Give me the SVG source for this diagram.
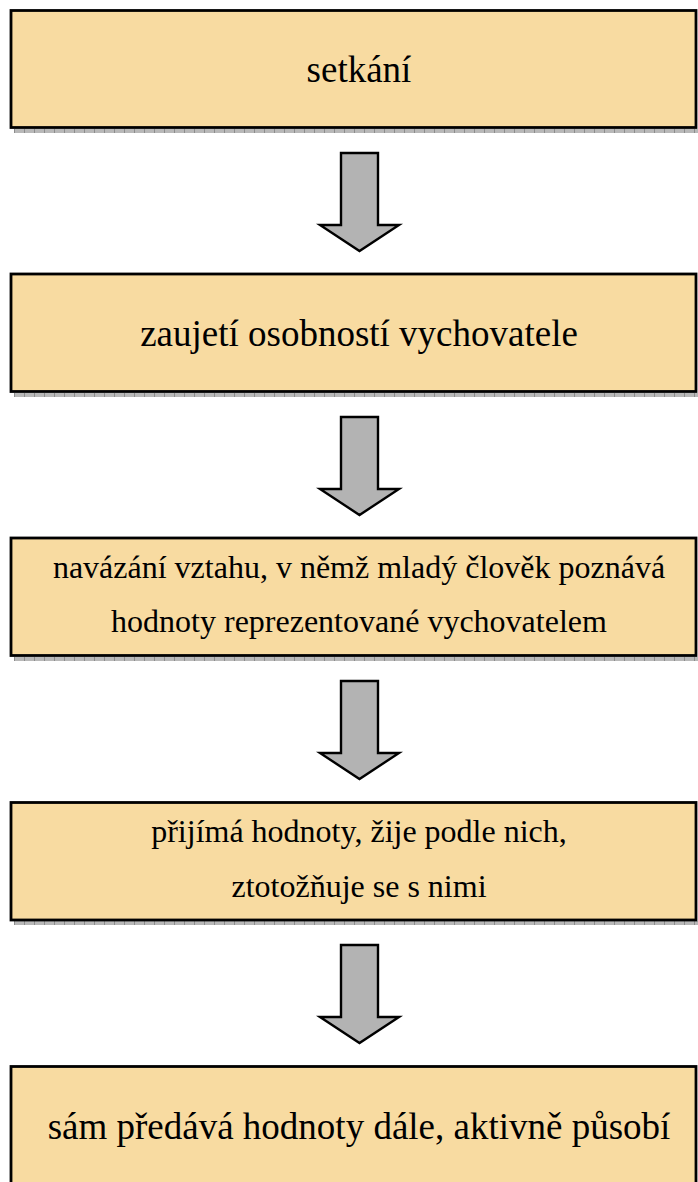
<svg xmlns="http://www.w3.org/2000/svg" width="698" height="1182" viewBox="0 0 698 1182">
<defs>
<pattern id="sh" x="4" y="0" width="10" height="5" patternUnits="userSpaceOnUse">
<rect width="10" height="5" fill="#b8b8b8"/>
<rect width="1" height="5" fill="#8c8c8c"/>
</pattern>
<style>
.box{fill:#f8dba1;stroke:#000;stroke-width:2.8}
.shadow{fill:url(#sh)}
.arrow{fill:#b3b3b3;stroke:#000;stroke-width:2.4;stroke-linejoin:miter}
.t{fill:#000;text-anchor:middle;font-family:'Liberation Serif','Tinos','Times New Roman','DejaVu Serif',serif}
.big{font-size:37px}
.small{font-size:32px}
</style>
</defs>
<rect width="698" height="1182" fill="#fff"/>
<g id="connectors">
<path class="arrow" d="M341,153 H378 V225 H399 L359.5,251 L320,225 H341 Z"/>
<path class="arrow" d="M341,417 H378 V489 H399 L359.5,515 L320,489 H341 Z"/>
<path class="arrow" d="M341,681 H378 V753 H399 L359.5,779 L320,753 H341 Z"/>
<path class="arrow" d="M341,945 H378 V1017 H399 L359.5,1043 L320,1017 H341 Z"/>
</g>
<g id="node1">
<rect class="shadow" x="14" y="129" width="684" height="4"/>
<rect class="box" x="11" y="10.5" width="685" height="117"/>
<text class="t big" x="359" y="82">setkání</text>
</g>
<g id="node2">
<rect class="shadow" x="14" y="393" width="684" height="4"/>
<rect class="box" x="11" y="274" width="685" height="117.5"/>
<text class="t big" x="359" y="346">zaujetí osobností vychovatele</text>
</g>
<g id="node3">
<rect class="shadow" x="14" y="657" width="684" height="4"/>
<rect class="box" x="11" y="538" width="685" height="117.5"/>
<text class="t small" x="359" y="578">navázání vztahu, v němž mladý člověk poznává</text>
<text class="t small" x="359" y="632">hodnoty reprezentované vychovatelem</text>
</g>
<g id="node4">
<rect class="shadow" x="14" y="921" width="684" height="4"/>
<rect class="box" x="11" y="802.5" width="685" height="117.5"/>
<text class="t small" x="359" y="842">přijímá hodnoty, žije podle nich,</text>
<text class="t small" x="359" y="897">ztotožňuje se s nimi</text>
</g>
<g id="node5">
<rect class="box" x="11" y="1066.5" width="685" height="130"/>
<text class="t big" x="359" y="1139">sám předává hodnoty dále, aktivně působí</text>
</g>
</svg>
